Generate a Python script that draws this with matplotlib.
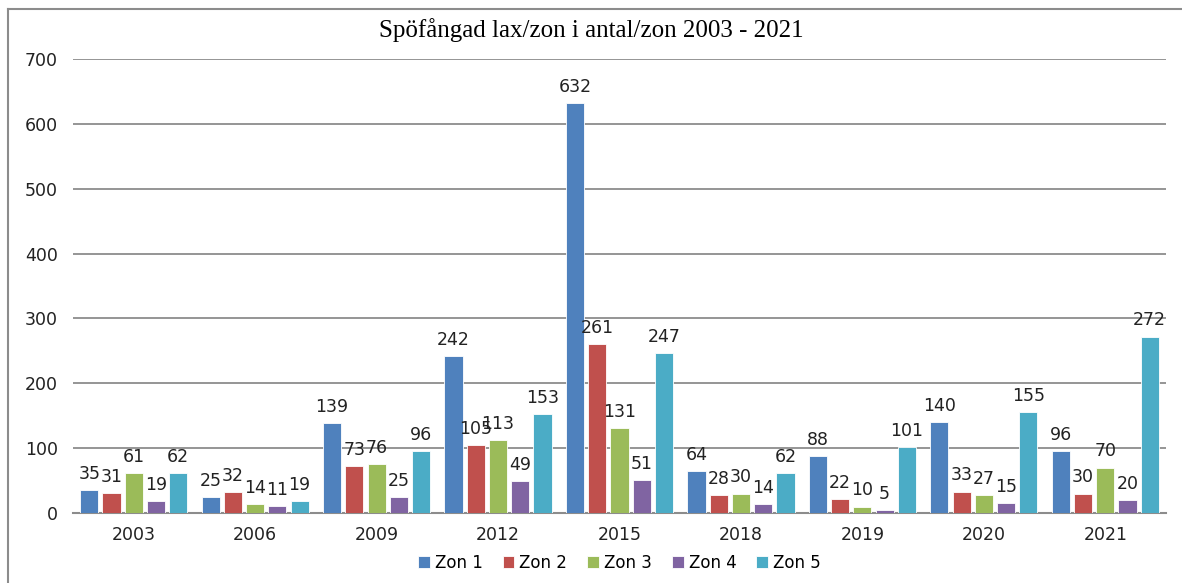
import numpy as np
import matplotlib
matplotlib.use("Agg")
import matplotlib.pyplot as plt
from matplotlib.lines import Line2D

years = ["2003", "2006", "2009", "2012", "2015", "2018", "2019", "2020", "2021"]
series_names = ["Zon 1", "Zon 2", "Zon 3", "Zon 4", "Zon 5"]
zon1 = [35, 25, 139, 242, 632, 64, 88, 140, 96]
zon2 = [31, 32, 73, 105, 261, 28, 22, 33, 30]
zon3 = [61, 14, 76, 113, 131, 30, 10, 27, 70]
zon4 = [19, 11, 25, 49, 51, 14, 5, 15, 20]
zon5 = [62, 19, 96, 153, 247, 62, 101, 155, 272]
colors = ["#4f81bd", "#c0504d", "#9bbb59", "#8064a2", "#4bacc6"]

W, H = 1182, 583
fig = plt.figure(figsize=(W / 100, H / 100), dpi=100)
ax = fig.add_axes([73 / W, 1 - 513 / H, (1166 - 73) / W, (513 - 59) / H])

x = np.arange(len(years))
pitch = 0.183
width = 0.15
label_font = {"family": "DejaVu Sans", "size": 12.5, "color": "#222222"}

for i, (name, vals) in enumerate(zip(series_names, [zon1, zon2, zon3, zon4, zon5])):
    pos = x + (i - 2) * pitch
    ax.bar(pos, vals, width=width, color=colors[i], label=name,
           edgecolor="white", linewidth=0.6, zorder=3)
    for xp, v in zip(pos, vals):
        ax.text(xp, v + 11, str(v), ha="center", va="bottom", **label_font)

ax.set_xlim(-0.5, len(years) - 0.5)
ax.set_ylim(0, 700)
ax.set_yticks(range(0, 701, 100))
ax.set_xticks(x)
ax.set_xticklabels(years)
ax.yaxis.grid(True, color="#8c8c8c", linewidth=1.3, zorder=0)
ax.set_axisbelow(True)
for side in ["left", "right", "top"]:
    ax.spines[side].set_visible(False)
ax.spines["bottom"].set_color("#8c8c8c")
ax.spines["bottom"].set_linewidth(1.5)
ax.tick_params(axis="both", length=0, labelsize=12.5, colors="#222222")
ax.tick_params(axis="y", pad=11)
ax.tick_params(axis="x", pad=9)

fig.text(0.5, 1 - 30 / H, "Spöfångad lax/zon i antal/zon 2003 - 2021",
         ha="center", va="center", family="Liberation Serif", size=18)

ax.legend(loc="center", bbox_to_anchor=(0.5, (513 - 563) / (513 - 59)),
          ncol=5, frameon=False, fontsize=12, handlelength=0.7,
          handleheight=0.7, handletextpad=0.3, columnspacing=1.2)

# outer chart frame
fig.add_artist(Line2D([8 / W, 8 / W], [0, 1 - 9 / H], transform=fig.transFigure,
                      color="#8c8c8c", linewidth=1.5))
fig.add_artist(Line2D([8 / W, 1], [1 - 9 / H, 1 - 9 / H], transform=fig.transFigure,
                      color="#8c8c8c", linewidth=1.5))

fig.savefig("out.png", dpi=100)
